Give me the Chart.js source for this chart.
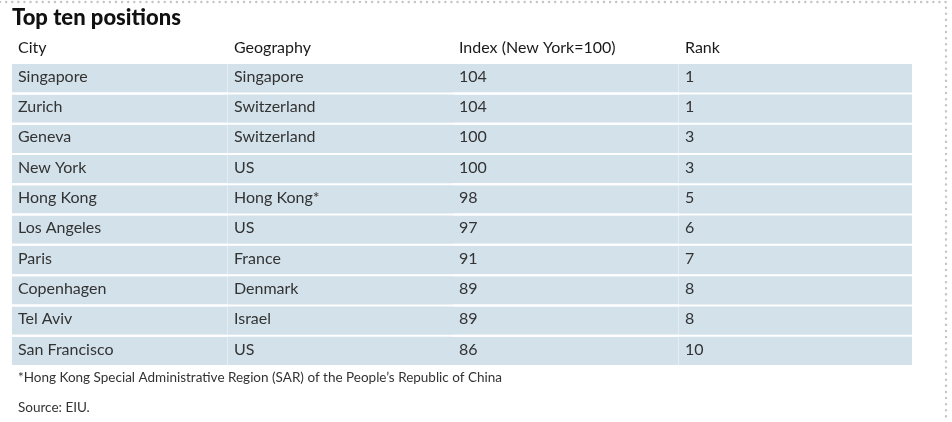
<!DOCTYPE html>
<html>
<head>
<meta charset="utf-8">
<script src="https://cdn.jsdelivr.net/npm/chart.js@4.4.1/dist/chart.umd.min.js"></script>
<style>
  html, body { margin: 0; padding: 0; background: #fff; }
  #wrap { position: relative; width: 952px; height: 422px; }
</style>
</head>
<body>
<div id="wrap"><canvas id="chart"></canvas></div>
<script>
// Données du tableau
const HEADERS = ['City', 'Geography', 'Index (New York=100)', 'Rank'];
const CITIES = ['Singapore', 'Zurich', 'Geneva', 'New York', 'Hong Kong', 'Los Angeles', 'Paris', 'Copenhagen', 'Tel Aviv', 'San Francisco'];
const GEOGRAPHIES = ['Singapore', 'Switzerland', 'Switzerland', 'US', 'Hong Kong*', 'US', 'France', 'Denmark', 'Israel', 'US'];
const INDEX_VALUES = [104, 104, 100, 100, 98, 97, 91, 89, 89, 86];
const RANKS = [1, 1, 3, 3, 5, 6, 7, 8, 8, 10];
const FOOTNOTE = '*Hong Kong Special Administrative Region (SAR) of the People\u2019s Republic of China';
const SOURCE = 'Source: EIU.';

// Mise en page (unités de l'axe x = largeur du tableau)
const TABLE_W = 900;
const COL_EDGES = [0, 216, 441, 667, TABLE_W];
const CELL_PAD = 6;
const FONT = 'Lato, "Noto Sans", sans-serif';

const rowColumns = [CITIES, GEOGRAPHIES, INDEX_VALUES, RANKS];

// Une série par colonne : chaque cellule est une barre flottante
const datasets = HEADERS.map((h, c) => ({
  label: h,
  data: CITIES.map(() => [COL_EDGES[c], COL_EDGES[c + 1]]),
  backgroundColor: '#d2e1ea',
  borderColor: '#e3edf2',
  borderWidth: (c === 0 || c === 2) ? { top: 0, bottom: 0, left: 0, right: 1 } : 0,
  borderSkipped: false,
  grouped: false,
  barPercentage: 0.934,
  categoryPercentage: 1
}));

// Texte des cellules, note et cadre pointillé
const tablePlugin = {
  id: 'tableText',
  afterDatasetsDraw(chart) {
    const { ctx, chartArea, scales: { x, y } } = chart;
    ctx.save();
    ctx.font = '16px ' + FONT;
    ctx.fillStyle = '#333';
    ctx.textAlign = 'left';
    ctx.textBaseline = 'middle';
    CITIES.forEach((city, i) => {
      // léger décalage : le milieu des capitales doit tomber au milieu de la ligne
      const py = y.getPixelForValue(i) - 1.5;
      rowColumns.forEach((col, c) => {
        ctx.fillText(String(col[i]), x.getPixelForValue(COL_EDGES[c] + CELL_PAD), py);
      });
    });

    ctx.font = '13.5px ' + FONT;
    ctx.fillStyle = '#333';
    const left = x.getPixelForValue(CELL_PAD);
    ctx.fillText(FOOTNOTE, left, chartArea.bottom + 12);
    ctx.fillText(SOURCE, left, chartArea.bottom + 42);

    // Cadre pointillé (haut et droite)
    ctx.strokeStyle = '#c6c6c6';
    ctx.lineWidth = 2.4;
    ctx.lineCap = 'round';
    ctx.setLineDash([0.1, 6]);
    ctx.beginPath();
    ctx.moveTo(0, 2);
    ctx.lineTo(946, 2);
    ctx.lineTo(946, 422);
    ctx.stroke();
    ctx.restore();
  }
};

new Chart(document.getElementById('chart').getContext('2d'), {
  type: 'bar',
  data: { labels: CITIES, datasets },
  options: {
    indexAxis: 'y',
    responsive: true,
    maintainAspectRatio: false,
    animation: false,
    layout: { padding: { top: 5, left: 12, right: 40, bottom: 56 } },
    plugins: {
      legend: { display: false },
      tooltip: { enabled: false },
      title: {
        display: true,
        text: 'Top ten positions',
        align: 'start',
        color: '#111',
        font: { family: FONT, size: 22, weight: 900 },
        padding: { top: 0, bottom: 1.3 }
      }
    },
    scales: {
      x: {
        type: 'linear',
        position: 'top',
        min: 0,
        max: TABLE_W,
        afterBuildTicks(scale) {
          scale.ticks = COL_EDGES.slice(0, 4).map(v => ({ value: v + CELL_PAD }));
        },
        ticks: {
          align: 'start',
          autoSkip: false,
          maxRotation: 0,
          padding: 5.6,
          color: '#1a1a1a',
          font: { family: FONT, size: 16 },
          callback: (value, index) => HEADERS[index]
        },
        grid: { display: false, drawTicks: false },
        border: { display: false }
      },
      y: {
        type: 'category',
        display: false
      }
    }
  },
  plugins: [tablePlugin]
});
</script>
</body>
</html>
